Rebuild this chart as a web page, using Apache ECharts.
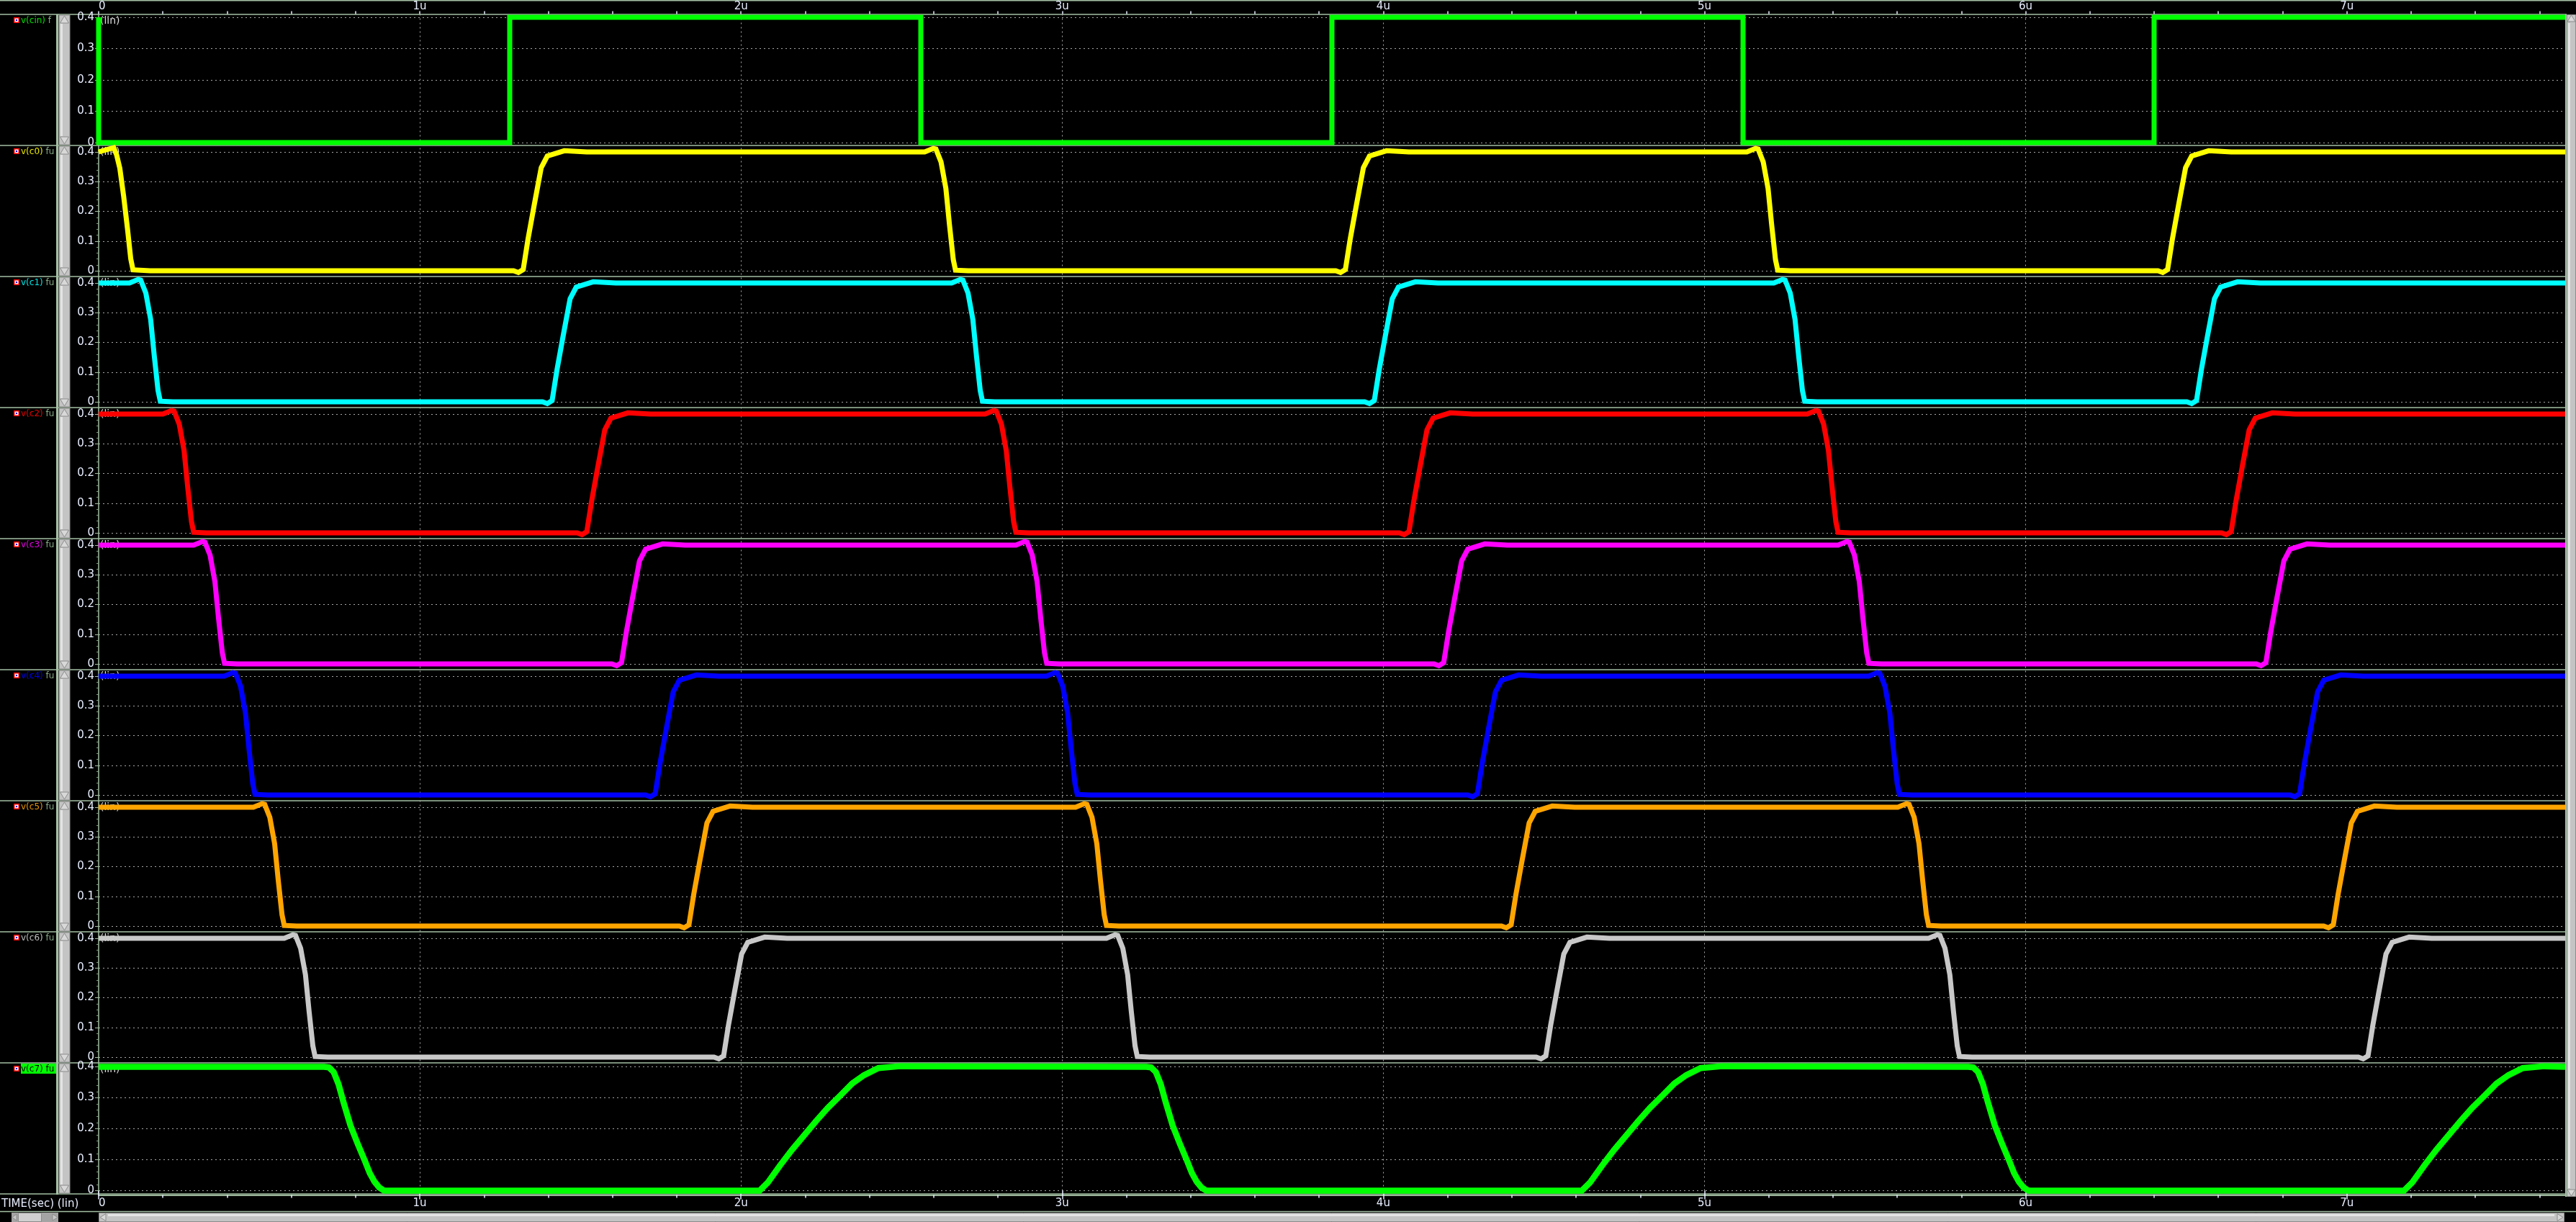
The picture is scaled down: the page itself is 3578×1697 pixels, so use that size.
<!DOCTYPE html>
<html><head><meta charset="utf-8">
<script src="https://cdn.jsdelivr.net/npm/echarts@6/dist/echarts.min.js"></script>
<style>html,body{margin:0;padding:0;background:#000;overflow:hidden}#c{width:3578px;height:1697px;}</style>
</head><body><div id="c"></div>
<script>
// ---------------- DATA ----------------
const signalNames = ['v(cin)','v(c0)','v(c1)','v(c2)','v(c3)','v(c4)','v(c5)','v(c6)','v(c7)'];
const timeMajorLabels = ['0','1u','2u','3u','4u','5u','6u','7u'];
const yTickLabels = ['0','0.1','0.2','0.3','0.4'];
const timeMax = 7.68;

const v_cin = [[0,0.4],[0,0],[1.28,0],[1.28,0.4],[2.56,0.4],[2.56,0],[3.84,0],[3.84,0.4],[5.12,0.4],[5.12,0],[6.40,0],[6.40,0.4],[7.68,0.4]];

const v_c0 = [[0,0.400],[0.022,0.407],[0.047,0.414],[0.056,0.390],[0.066,0.345],[0.078,0.250],[0.090,0.140],[0.100,0.040],[0.107,0.003],[0.160,0.000],
 [1.292,0.000],[1.307,-0.006],[1.322,0.004],[1.337,0.107],[1.356,0.220],[1.378,0.347],[1.397,0.386],[1.450,0.404],[1.520,0.400],
 [2.572,0.400],[2.599,0.412],[2.607,0.410],[2.623,0.366],[2.638,0.277],[2.649,0.157],[2.661,0.038],[2.668,0.002],[2.707,0.000],
 [3.852,0.000],[3.867,-0.006],[3.882,0.004],[3.897,0.107],[3.916,0.220],[3.938,0.347],[3.957,0.386],[4.010,0.404],[4.080,0.400],
 [5.132,0.400],[5.159,0.412],[5.167,0.410],[5.183,0.366],[5.198,0.277],[5.209,0.157],[5.221,0.038],[5.228,0.002],[5.267,0.000],
 [6.412,0.000],[6.427,-0.006],[6.442,0.004],[6.457,0.107],[6.476,0.220],[6.498,0.347],[6.517,0.386],[6.570,0.404],[6.640,0.400],[7.680,0.400]];

const v_c1 = [[0,0.400],
 [0.096,0.400],[0.123,0.412],[0.131,0.410],[0.147,0.366],[0.162,0.277],[0.173,0.157],[0.185,0.038],[0.192,0.002],[0.231,0.000],
 [1.382,0.000],[1.397,-0.006],[1.412,0.004],[1.427,0.107],[1.446,0.220],[1.468,0.347],[1.487,0.386],[1.540,0.404],[1.610,0.400],
 [2.656,0.400],[2.683,0.412],[2.691,0.410],[2.707,0.366],[2.722,0.277],[2.733,0.157],[2.745,0.038],[2.752,0.002],[2.791,0.000],
 [3.942,0.000],[3.957,-0.006],[3.972,0.004],[3.987,0.107],[4.006,0.220],[4.028,0.347],[4.047,0.386],[4.100,0.404],[4.170,0.400],
 [5.216,0.400],[5.243,0.412],[5.251,0.410],[5.267,0.366],[5.282,0.277],[5.293,0.157],[5.305,0.038],[5.312,0.002],[5.351,0.000],
 [6.502,0.000],[6.517,-0.006],[6.532,0.004],[6.547,0.107],[6.566,0.220],[6.588,0.347],[6.607,0.386],[6.660,0.404],[6.730,0.400],[7.680,0.400]];

const v_c2 = [[0,0.400],
 [0.200,0.400],[0.227,0.412],[0.235,0.410],[0.251,0.366],[0.266,0.277],[0.277,0.157],[0.289,0.038],[0.296,0.002],[0.335,0.000],
 [1.490,0.000],[1.505,-0.006],[1.520,0.004],[1.535,0.107],[1.554,0.220],[1.576,0.347],[1.595,0.386],[1.648,0.404],[1.718,0.400],
 [2.760,0.400],[2.787,0.412],[2.795,0.410],[2.811,0.366],[2.826,0.277],[2.837,0.157],[2.849,0.038],[2.856,0.002],[2.895,0.000],
 [4.050,0.000],[4.065,-0.006],[4.080,0.004],[4.095,0.107],[4.114,0.220],[4.136,0.347],[4.155,0.386],[4.208,0.404],[4.278,0.400],
 [5.320,0.400],[5.347,0.412],[5.355,0.410],[5.371,0.366],[5.386,0.277],[5.397,0.157],[5.409,0.038],[5.416,0.002],[5.455,0.000],
 [6.610,0.000],[6.625,-0.006],[6.640,0.004],[6.655,0.107],[6.674,0.220],[6.696,0.347],[6.715,0.386],[6.768,0.404],[6.838,0.400],[7.680,0.400]];

const v_c3 = [[0,0.400],
 [0.296,0.400],[0.323,0.412],[0.331,0.410],[0.347,0.366],[0.362,0.277],[0.373,0.157],[0.385,0.038],[0.392,0.002],[0.431,0.000],
 [1.598,0.000],[1.613,-0.006],[1.628,0.004],[1.643,0.107],[1.662,0.220],[1.684,0.347],[1.703,0.386],[1.756,0.404],[1.826,0.400],
 [2.856,0.400],[2.883,0.412],[2.891,0.410],[2.907,0.366],[2.922,0.277],[2.933,0.157],[2.945,0.038],[2.952,0.002],[2.991,0.000],
 [4.158,0.000],[4.173,-0.006],[4.188,0.004],[4.203,0.107],[4.222,0.220],[4.244,0.347],[4.263,0.386],[4.316,0.404],[4.386,0.400],
 [5.416,0.400],[5.443,0.412],[5.451,0.410],[5.467,0.366],[5.482,0.277],[5.493,0.157],[5.505,0.038],[5.512,0.002],[5.551,0.000],
 [6.718,0.000],[6.733,-0.006],[6.748,0.004],[6.763,0.107],[6.782,0.220],[6.804,0.347],[6.823,0.386],[6.876,0.404],[6.946,0.400],[7.680,0.400]];

const v_c4 = [[0,0.400],
 [0.391,0.400],[0.418,0.412],[0.426,0.410],[0.442,0.366],[0.457,0.277],[0.468,0.157],[0.480,0.038],[0.487,0.002],[0.526,0.000],
 [1.703,0.000],[1.718,-0.006],[1.733,0.004],[1.748,0.107],[1.767,0.220],[1.789,0.347],[1.808,0.386],[1.861,0.404],[1.931,0.400],
 [2.951,0.400],[2.978,0.412],[2.986,0.410],[3.002,0.366],[3.017,0.277],[3.028,0.157],[3.040,0.038],[3.047,0.002],[3.086,0.000],
 [4.263,0.000],[4.278,-0.006],[4.293,0.004],[4.308,0.107],[4.327,0.220],[4.349,0.347],[4.368,0.386],[4.421,0.404],[4.491,0.400],
 [5.511,0.400],[5.538,0.412],[5.546,0.410],[5.562,0.366],[5.577,0.277],[5.588,0.157],[5.600,0.038],[5.607,0.002],[5.646,0.000],
 [6.823,0.000],[6.838,-0.006],[6.853,0.004],[6.868,0.107],[6.887,0.220],[6.909,0.347],[6.928,0.386],[6.981,0.404],[7.051,0.400],[7.680,0.400]];

const v_c5 = [[0,0.400],
 [0.482,0.400],[0.509,0.412],[0.517,0.410],[0.533,0.366],[0.548,0.277],[0.559,0.157],[0.571,0.038],[0.578,0.002],[0.617,0.000],
 [1.808,0.000],[1.823,-0.006],[1.838,0.004],[1.853,0.107],[1.872,0.220],[1.894,0.347],[1.913,0.386],[1.966,0.404],[2.036,0.400],
 [3.042,0.400],[3.069,0.412],[3.077,0.410],[3.093,0.366],[3.108,0.277],[3.119,0.157],[3.131,0.038],[3.138,0.002],[3.177,0.000],
 [4.368,0.000],[4.383,-0.006],[4.398,0.004],[4.413,0.107],[4.432,0.220],[4.454,0.347],[4.473,0.386],[4.526,0.404],[4.596,0.400],
 [5.602,0.400],[5.629,0.412],[5.637,0.410],[5.653,0.366],[5.668,0.277],[5.679,0.157],[5.691,0.038],[5.698,0.002],[5.737,0.000],
 [6.928,0.000],[6.943,-0.006],[6.958,0.004],[6.973,0.107],[6.992,0.220],[7.014,0.347],[7.033,0.386],[7.086,0.404],[7.156,0.400],[7.680,0.400]];

const v_c6 = [[0,0.400],
 [0.578,0.400],[0.605,0.412],[0.613,0.410],[0.629,0.366],[0.644,0.277],[0.655,0.157],[0.667,0.038],[0.674,0.002],[0.713,0.000],
 [1.916,0.000],[1.931,-0.006],[1.946,0.004],[1.961,0.107],[1.980,0.220],[2.002,0.347],[2.021,0.386],[2.074,0.404],[2.144,0.400],
 [3.138,0.400],[3.165,0.412],[3.173,0.410],[3.189,0.366],[3.204,0.277],[3.215,0.157],[3.227,0.038],[3.234,0.002],[3.273,0.000],
 [4.476,0.000],[4.491,-0.006],[4.506,0.004],[4.521,0.107],[4.540,0.220],[4.562,0.347],[4.581,0.386],[4.634,0.404],[4.704,0.400],
 [5.698,0.400],[5.725,0.412],[5.733,0.410],[5.749,0.366],[5.764,0.277],[5.775,0.157],[5.787,0.038],[5.794,0.002],[5.833,0.000],
 [7.036,0.000],[7.051,-0.006],[7.066,0.004],[7.081,0.107],[7.100,0.220],[7.122,0.347],[7.141,0.386],[7.194,0.404],[7.264,0.400],[7.680,0.400]];

const v_c7 = [[0,0.400],
 [0.702,0.400],[0.717,0.398],[0.732,0.383],[0.747,0.344],[0.762,0.287],[0.784,0.211],[0.806,0.153],[0.829,0.096],[0.844,0.057],[0.859,0.029],[0.874,0.010],[0.889,0.000],
 [2.058,0.000],[2.084,0.027],[2.122,0.082],[2.159,0.132],[2.197,0.179],[2.234,0.225],[2.271,0.268],[2.309,0.307],[2.346,0.346],[2.383,0.373],[2.428,0.396],[2.495,0.402],
 [3.262,0.400],[3.277,0.398],[3.292,0.383],[3.307,0.344],[3.322,0.287],[3.344,0.211],[3.366,0.153],[3.389,0.096],[3.404,0.057],[3.419,0.029],[3.434,0.010],[3.449,0.000],
 [4.618,0.000],[4.644,0.027],[4.682,0.082],[4.719,0.132],[4.757,0.179],[4.794,0.225],[4.831,0.268],[4.869,0.307],[4.906,0.346],[4.943,0.373],[4.988,0.396],[5.055,0.402],
 [5.822,0.400],[5.837,0.398],[5.852,0.383],[5.867,0.344],[5.882,0.287],[5.904,0.211],[5.926,0.153],[5.949,0.096],[5.964,0.057],[5.979,0.029],[5.994,0.010],[6.009,0.000],
 [7.178,0.000],[7.204,0.027],[7.242,0.082],[7.279,0.132],[7.317,0.179],[7.354,0.225],[7.391,0.268],[7.429,0.307],[7.466,0.346],[7.503,0.373],[7.548,0.396],[7.615,0.402],[7.680,0.400]];

// ---------------- STYLE / LAYOUT ----------------
const signalData = [v_cin, v_c0, v_c1, v_c2, v_c3, v_c4, v_c5, v_c6, v_c7];
const lineColors = ['#00ff00','#ffff00','#00ffff','#ff0000','#ff00ff','#0000ff','#ffa500','#c8c8c8','#00ff00'];
const nameColors = ['#00e000','#e6e600','#00e6e6','#e60000','#e600e6','#0000ee','#e69500','#bdbdbd','#000000'];
const lineWidths = [7,7,7,7,7,7,7,7,8.5];
const FONT = 'DejaVu Sans';
const TXT = '#e8eeff';
const FRAME = '#a3bfa3';
const GRIDC = '#a6a6a6';
const sepY = [20, 202, 384, 566, 748, 930, 1112, 1294, 1476, 1658];
const L = 137, R = 15;

function panelBox(i){
  if (i === 0) return {top: 24, height: 174};
  if (i === 8) return {top: 1481.5, height: 172};
  return {top: sepY[i] + 9, height: 165};
}
function timeFmt(v){
  const k = Math.round(v);
  return (Math.abs(v - k) < 1e-6 && k >= 0 && k < timeMajorLabels.length) ? timeMajorLabels[k] : '';
}
const majorTicks = timeMajorLabels.map((_, k) => k);
const minorTicks = [];
for (let k = 0; k < 39; k++) minorTicks.push(Math.round(k * 2) / 10);

const grids = [], xAxes = [], yAxes = [], series = [];
for (let i = 0; i < 9; i++){
  const b = panelBox(i);
  grids.push({left: L, right: R, top: b.top, height: b.height});
  xAxes.push({gridIndex: i, type: 'value', min: 0, max: timeMax, show: false});
  yAxes.push({
    gridIndex: i, type: 'value', min: 0, max: 0.4, interval: 0.1,
    axisLine: {show: false},
    axisTick: {show: true, length: 5, lineStyle: {color: FRAME, width: 1}},
    minorTick: {show: true, splitNumber: 5, length: 3, lineStyle: {color: '#7fa07f', width: 1}},
    axisLabel: {show: true, color: TXT, fontSize: 15, fontFamily: FONT, margin: 6,
      formatter: v => yTickLabels[Math.round(v * 10)]},
    splitLine: {show: true, lineStyle: {color: GRIDC, type: [2, 4], width: 1}}
  });
  series.push({
    type: 'line', xAxisIndex: i, yAxisIndex: i, data: signalData[i],
    showSymbol: false, symbol: 'none', clip: false, silent: true, animation: false,
    lineStyle: {color: lineColors[i], width: lineWidths[i], join: 'miter', cap: 'butt'},
    z: 5
  });
}
// frame grid for the time axes and vertical grid lines
grids.push({left: L, right: R, top: 19.5, height: 1640});
const F = 9;
xAxes.push({gridIndex: F, type: 'value', position: 'top', min: 0, max: timeMax, interval: 1,
  axisLine: {show: true, lineStyle: {color: FRAME, width: 1.5}},
  axisTick: {show: true, length: 6, customValues: majorTicks, lineStyle: {color: TXT, width: 1.5}},
  axisLabel: {show: true, color: TXT, fontSize: 15, fontFamily: FONT, margin: 3,
    customValues: majorTicks, formatter: timeFmt, alignMinLabel: 'left'},
  splitLine: {show: true, showMinLine: false, showMaxLine: false, lineStyle: {color: GRIDC, type: [2, 4], width: 1}}
});
xAxes.push({gridIndex: F, type: 'value', position: 'top', min: 0, max: timeMax, interval: 0.2,
  axisLine: {show: false},
  axisTick: {show: true, length: 4, customValues: minorTicks, lineStyle: {color: TXT, width: 1.5}},
  axisLabel: {show: false}, splitLine: {show: false}
});
xAxes.push({gridIndex: F, type: 'value', position: 'bottom', min: 0, max: timeMax, interval: 1,
  axisLine: {show: true, lineStyle: {color: FRAME, width: 1.5}},
  axisTick: {show: true, length: 6, customValues: majorTicks, lineStyle: {color: TXT, width: 1.5}},
  axisLabel: {show: true, color: TXT, fontSize: 15, fontFamily: FONT, margin: 4,
    customValues: majorTicks, formatter: timeFmt, alignMinLabel: 'left'},
  splitLine: {show: false}
});
xAxes.push({gridIndex: F, type: 'value', position: 'bottom', min: 0, max: timeMax, interval: 0.2,
  axisLine: {show: false},
  axisTick: {show: true, length: 4, customValues: minorTicks, lineStyle: {color: TXT, width: 1.5}},
  axisLabel: {show: false}, splitLine: {show: false}
});
yAxes.push({gridIndex: F, type: 'value', min: 0, max: 1,
  axisLine: {show: true, onZero: false, lineStyle: {color: FRAME, width: 1.5}},
  axisTick: {show: false}, axisLabel: {show: false}, splitLine: {show: false}
});

// ---------------- DECORATION (layout only) ----------------
const g = [];
g.push({type: 'rect', shape: {x: 0, y: 0, width: 3578, height: 1.5}, style: {fill: FRAME}, silent: true});
sepY.forEach(y => g.push({type: 'line', shape: {x1: 0, y1: y, x2: 3565, y2: y}, style: {stroke: FRAME, lineWidth: 1.5}, silent: true}));
g.push({type: 'line', shape: {x1: 0, y1: 1682.5, x2: 3578, y2: 1682.5}, style: {stroke: FRAME, lineWidth: 1.5}, silent: true});
g.push({type: 'rect', shape: {x: 78, y: 20, width: 3, height: 1639}, style: {fill: FRAME}, silent: true});
// per-panel vertical scrollbars
for (let i = 0; i < 9; i++){
  const t = sepY[i] + 1, b = sepY[i + 1] - 1;
  g.push({type: 'rect', shape: {x: 82, y: t, width: 15, height: b - t}, style: {fill: '#c4c4c4', stroke: '#8c8c8c', lineWidth: 1}, silent: true});
  g.push({type: 'rect', shape: {x: 84, y: t + 12, width: 3, height: b - t - 24}, style: {fill: '#e4e4e4'}, silent: true});
  g.push({type: 'polygon', shape: {points: [[89.5, t + 1], [83.5, t + 11], [95.5, t + 11]]}, style: {fill: '#d8d8d8', stroke: '#8c8c8c', lineWidth: 1}, silent: true});
  g.push({type: 'polygon', shape: {points: [[89.5, b - 1], [83.5, b - 11], [95.5, b - 11]]}, style: {fill: '#d8d8d8', stroke: '#8c8c8c', lineWidth: 1}, silent: true});
}
// right scrollbar
g.push({type: 'rect', shape: {x: 3563, y: 20, width: 2, height: 1642}, style: {fill: FRAME}, silent: true});
g.push({type: 'rect', shape: {x: 3565.5, y: 20.5, width: 12, height: 1641}, style: {fill: '#c4c4c4', stroke: '#8c8c8c', lineWidth: 1}, silent: true});
g.push({type: 'rect', shape: {x: 3567, y: 32, width: 3, height: 1618}, style: {fill: '#e4e4e4'}, silent: true});
g.push({type: 'polygon', shape: {points: [[3571.5, 21], [3566, 30], [3577, 30]]}, style: {fill: '#d8d8d8', stroke: '#8c8c8c', lineWidth: 1}, silent: true});
g.push({type: 'polygon', shape: {points: [[3571.5, 1661], [3566, 1652], [3577, 1652]]}, style: {fill: '#d8d8d8', stroke: '#8c8c8c', lineWidth: 1}, silent: true});
// bottom scrollbars
g.push({type: 'rect', shape: {x: 137.5, y: 1684.5, width: 3424, height: 12}, style: {fill: '#c4c4c4', stroke: '#8c8c8c', lineWidth: 1}, silent: true});
g.push({type: 'rect', shape: {x: 150, y: 1686, width: 3398, height: 3}, style: {fill: '#e4e4e4'}, silent: true});
g.push({type: 'polygon', shape: {points: [[139, 1690.5], [147, 1685.5], [147, 1695.5]]}, style: {fill: '#d8d8d8', stroke: '#8c8c8c', lineWidth: 1}, silent: true});
g.push({type: 'polygon', shape: {points: [[3560, 1690.5], [3552, 1685.5], [3552, 1695.5]]}, style: {fill: '#d8d8d8', stroke: '#8c8c8c', lineWidth: 1}, silent: true});
g.push({type: 'rect', shape: {x: 16, y: 1684, width: 65, height: 13}, style: {fill: '#a4a4a4'}, silent: true});
g.push({type: 'rect', shape: {x: 25.5, y: 1684.5, width: 32, height: 12}, style: {fill: '#d0d0d0', stroke: '#8c8c8c', lineWidth: 1}, silent: true});
g.push({type: 'polygon', shape: {points: [[17, 1690.5], [23, 1686], [23, 1695]]}, style: {fill: '#c8c8c8', stroke: '#8c8c8c', lineWidth: 1}, silent: true});
g.push({type: 'polygon', shape: {points: [[80, 1690.5], [73, 1686], [73, 1695]]}, style: {fill: '#c8c8c8', stroke: '#8c8c8c', lineWidth: 1}, silent: true});
// names, icons, (lin)
for (let i = 0; i < 9; i++){
  const s = sepY[i];
  if (i === 8) g.push({type: 'rect', shape: {x: 29, y: s + 1, width: 49, height: 14}, style: {fill: '#00ff00'}, silent: true});
  g.push({type: 'rect', shape: {x: 19, y: s + 4, width: 8, height: 8}, style: {fill: '#ff0000'}, silent: true});
  g.push({type: 'rect', shape: {x: 20.5, y: s + 5.5, width: 5, height: 5}, style: {fill: '#ffffff'}, silent: true});
  g.push({type: 'rect', shape: {x: 22, y: s + 7, width: 2, height: 2}, style: {fill: '#0000ff'}, silent: true});
  g.push({type: 'text', x: 29, y: s + 8.5, silent: true, style: {
    text: '{n|' + signalNames[i] + '}{f| fu}', width: 48, overflow: 'truncate', ellipsis: '',
    verticalAlign: 'middle', align: 'left', font: '12px ' + FONT,
    rich: {n: {fill: nameColors[i], font: '12px ' + FONT}, f: {fill: i === 8 ? '#000000' : '#86a886', font: '12px ' + FONT}}
  }});
  g.push({type: 'text', x: 139, y: s + 9.5, z: 0, silent: true, style: {text: '(lin)', fill: '#dcdcdc', font: '14px ' + FONT, verticalAlign: 'middle'}});
}
g.push({type: 'text', x: 2, y: 1672, silent: true, style: {text: 'TIME(sec) (lin)', fill: TXT, font: '15px ' + FONT, verticalAlign: 'middle'}});

const chart = echarts.init(document.getElementById('c'), null, {renderer: 'canvas'});
chart.setOption({
  backgroundColor: '#000000',
  animation: false,
  grid: grids, xAxis: xAxes, yAxis: yAxes, series: series,
  graphic: {elements: g}
});
</script></body></html>
